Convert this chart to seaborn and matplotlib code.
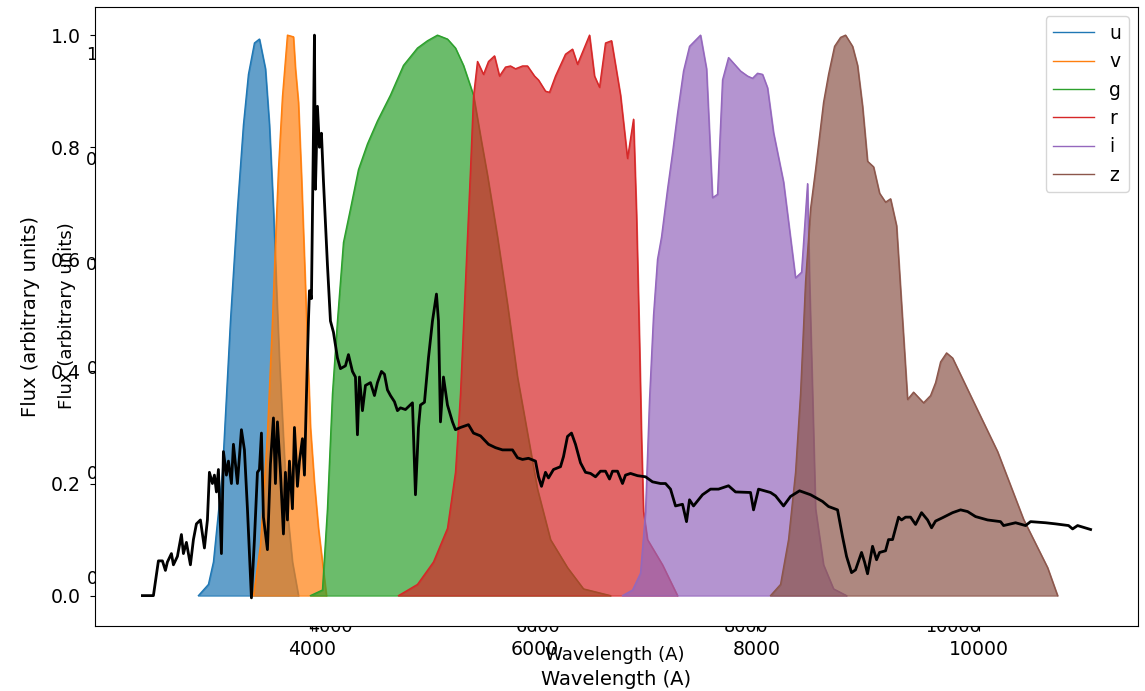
import numpy as np
import pandas as pd
import matplotlib
matplotlib.use("Agg")
import matplotlib.pyplot as plt
import seaborn as sns

# ---------------- data ----------------
filter_names = ["u", "v", "g", "r", "i", "z"]

u_wave = [2974, 3064, 3109, 3190, 3262, 3325, 3379, 3424, 3478, 3523, 3577, 3613,
          3649, 3676, 3703, 3739, 3775, 3820, 3874]
u_resp = [0.0, 0.02, 0.06, 0.22, 0.49, 0.69, 0.84, 0.93, 0.986, 0.993, 0.94, 0.84,
          0.69, 0.55, 0.42, 0.28, 0.15, 0.06, 0.0]

v_wave = [3469, 3532, 3595, 3640, 3667, 3694, 3730, 3775, 3829, 3847, 3874, 3901,
          3928, 3955, 3982, 4018, 4054, 4090, 4126]
v_resp = [0.0, 0.09, 0.29, 0.49, 0.63, 0.76, 0.89, 1.0, 0.997, 0.94, 0.88, 0.75,
          0.60, 0.45, 0.30, 0.20, 0.12, 0.06, 0.0]

g_wave = [3982, 4090, 4135, 4180, 4225, 4279, 4342, 4414, 4495, 4585, 4702, 4819,
          4945, 5035, 5125, 5215, 5287, 5359, 5449, 5521, 5575, 5665, 5755, 5845,
          5935, 6025, 6142, 6295, 6439, 6682]
g_resp = [0.0, 0.01, 0.155, 0.36, 0.49, 0.63, 0.69, 0.76, 0.806, 0.847, 0.893, 0.946,
          0.977, 0.99, 1.0, 0.993, 0.977, 0.946, 0.893, 0.81, 0.75, 0.64, 0.52, 0.39,
          0.29, 0.19, 0.10, 0.05, 0.012, 0.0]

r_wave = [4774, 4945, 5089, 5215, 5287, 5332, 5377, 5422, 5449, 5485, 5539, 5584,
          5638, 5683, 5737, 5782, 5827, 5890, 5935, 5998, 6034, 6097, 6133, 6187,
          6277, 6340, 6385, 6493, 6538, 6583, 6637, 6691, 6772, 6835, 6889, 6916,
          6943, 6961, 6979, 7015, 7150, 7285]
r_resp = [0.0, 0.02, 0.06, 0.12, 0.22, 0.36, 0.56, 0.76, 0.89, 0.953, 0.93, 0.953,
          0.963, 0.927, 0.943, 0.945, 0.94, 0.945, 0.945, 0.927, 0.92, 0.90, 0.898, 0.927,
          0.966, 0.975, 0.948, 1.0, 0.927, 0.907, 0.986, 0.99, 0.893, 0.78, 0.85, 0.68,
          0.45, 0.28, 0.15, 0.10, 0.055, 0.0]

i_wave = [6790, 6880, 6952, 6997, 7033, 7069, 7105, 7141, 7195, 7240, 7285, 7339,
          7393, 7492, 7546, 7600, 7645, 7690, 7744, 7789, 7852, 7915, 7960, 8005,
          8050, 8095, 8149, 8239, 8347, 8401, 8455, 8473, 8500, 8527, 8599, 8689, 8806]
i_resp = [0.0, 0.01, 0.04, 0.15, 0.35, 0.50, 0.60, 0.64, 0.725, 0.79, 0.86, 0.936,
          0.98, 1.0, 0.94, 0.71, 0.716, 0.92, 0.96, 0.95, 0.936, 0.927, 0.923, 0.932,
          0.93, 0.906, 0.826, 0.738, 0.567, 0.577, 0.735, 0.56, 0.36, 0.155, 0.055, 0.012, 0.0]

z_wave = [8122, 8212, 8284, 8347, 8392, 8437, 8482, 8527, 8599, 8644, 8698, 8752,
          8797, 8860, 8905, 8950, 8995, 9049, 9103, 9157, 9202, 9256, 9355, 9409,
          9499, 9562, 9607, 9652, 9706, 9760, 9922, 10165, 10399, 10615, 10705]
z_resp = [0.0, 0.02, 0.10, 0.22, 0.36, 0.56, 0.69, 0.76, 0.88, 0.93, 0.98, 0.996,
          1.0, 0.98, 0.946, 0.873, 0.775, 0.765, 0.718, 0.702, 0.708, 0.66, 0.35, 0.363,
          0.344, 0.357, 0.38, 0.417, 0.433, 0.424, 0.357, 0.257, 0.136, 0.05, 0.0]

spec_wave = [2470, 2569, 2614, 2650, 2677, 2695, 2731, 2749, 2785, 2821, 2839, 2866,
             2902, 2929, 2956, 2992, 3028, 3055, 3073, 3100, 3118, 3136, 3154, 3181,
             3199, 3226, 3244, 3271, 3289, 3325, 3361, 3388, 3415, 3451, 3478, 3505,
             3523, 3541, 3559, 3595, 3622, 3649, 3667, 3685, 3712, 3739, 3757, 3775,
             3793, 3820, 3838, 3865, 3883, 3910, 3928, 3946, 3964, 3973, 3991, 4009,
             4018, 4027, 4045, 4063, 4081, 4099, 4135, 4162, 4189, 4225, 4252, 4297,
             4324, 4360, 4387, 4405, 4423, 4450, 4477, 4522, 4558, 4585, 4621, 4648,
             4675, 4702, 4738, 4765, 4792, 4837, 4900, 4927, 4954, 4972, 5008, 5044,
             5080, 5116, 5134, 5152, 5179, 5215, 5260, 5287, 5332, 5404, 5449, 5512,
             5584, 5647, 5710, 5800, 5845, 5890, 5944, 6007, 6034, 6061, 6097, 6124,
             6169, 6232, 6259, 6295, 6331, 6367, 6412, 6457, 6502, 6547, 6592, 6637,
             6673, 6700, 6745, 6790, 6817, 6862, 6925, 6997, 7060, 7132, 7177, 7222,
             7267, 7330, 7366, 7393, 7429, 7510, 7582, 7654, 7744, 7807, 7942, 7969,
             8014, 8122, 8167, 8239, 8302, 8383, 8482, 8590, 8644, 8725, 8770, 8806,
             8851, 8887, 8941, 8968, 8995, 9040, 9076, 9103, 9157, 9184, 9220, 9274,
             9301, 9337, 9382, 9427, 9481, 9535, 9571, 9607, 9670, 9760, 9832, 9895,
             9967, 10075, 10192, 10219, 10327, 10417, 10462, 10597, 10687, 10804,
             10840, 10885, 11002]
spec_flux = [0.0, 0.0, 0.062, 0.062, 0.045, 0.06, 0.075, 0.055, 0.07, 0.109, 0.075, 0.095,
             0.055, 0.10, 0.128, 0.135, 0.085, 0.135, 0.22, 0.20, 0.215, 0.185, 0.225, 0.075,
             0.257, 0.215, 0.24, 0.20, 0.27, 0.20, 0.296, 0.26, 0.155, -0.004, 0.10, 0.22,
             0.225, 0.29, 0.14, 0.082, 0.235, 0.317, 0.20, 0.31, 0.22, 0.11, 0.22, 0.135,
             0.24, 0.155, 0.30, 0.195, 0.24, 0.28, 0.215, 0.357, 0.49, 0.544, 0.53, 0.825,
             1.0, 0.725, 0.873, 0.80, 0.825, 0.74, 0.59, 0.49, 0.47, 0.424, 0.405, 0.41,
             0.43, 0.40, 0.39, 0.287, 0.39, 0.33, 0.375, 0.38, 0.357, 0.38, 0.40, 0.395,
             0.367, 0.357, 0.346, 0.33, 0.335, 0.332, 0.344, 0.18, 0.30, 0.34, 0.345, 0.424,
             0.49, 0.538, 0.49, 0.31, 0.39, 0.34, 0.31, 0.296, 0.30, 0.305, 0.29, 0.285,
             0.27, 0.264, 0.26, 0.26, 0.246, 0.243, 0.245, 0.24, 0.212, 0.195, 0.22, 0.21,
             0.225, 0.23, 0.248, 0.284, 0.29, 0.27, 0.237, 0.22, 0.218, 0.212, 0.222, 0.222,
             0.208, 0.222, 0.222, 0.20, 0.215, 0.218, 0.214, 0.212, 0.203, 0.20, 0.20, 0.19,
             0.16, 0.163, 0.132, 0.171, 0.16, 0.18, 0.19, 0.19, 0.196, 0.185, 0.184, 0.153,
             0.19, 0.184, 0.178, 0.16, 0.177, 0.187, 0.18, 0.168, 0.159, 0.153, 0.105, 0.07,
             0.041, 0.046, 0.077, 0.06, 0.039, 0.088, 0.064, 0.077, 0.08, 0.10, 0.10, 0.14,
             0.135, 0.14, 0.14, 0.127, 0.148, 0.135, 0.121, 0.133, 0.139, 0.148, 0.153, 0.15,
             0.141, 0.135, 0.132, 0.125, 0.13, 0.125, 0.132, 0.13, 0.128, 0.125,
             0.119, 0.125, 0.118]

x_label = "Wavelength (A)"
y_label = "Flux (arbitrary units)"

# ---------------- figure ----------------
waves = [u_wave, v_wave, g_wave, r_wave, i_wave, z_wave]
resps = [u_resp, v_resp, g_resp, r_resp, i_resp, z_resp]
frames = []
for name, w, r in zip(filter_names, waves, resps):
    frames.append(pd.DataFrame({"wave": w, "resp": r, "filter": name}))
filters = pd.concat(frames, ignore_index=True)
spectrum = pd.DataFrame({"wave": spec_wave, "flux": spec_flux})

palette = sns.color_palette("tab10", len(filter_names))

fig = plt.figure(figsize=(11.45, 6.91), dpi=100)

# faint, slightly smaller copy of the axes behind the main one
s = 0.934
ax_bg = fig.add_axes([0.11118, 0.12446, 0.85083, 0.83661], zorder=0)
ax = fig.add_axes([0.08297, 0.09407, 0.91092, 0.89580], zorder=1)
ax.set_facecolor("white")

for k, name in enumerate(filter_names):
    sub = filters[filters["filter"] == name]
    sns.lineplot(data=sub, x="wave", y="resp", color=palette[k], label=name,
                 lw=1.0, estimator=None, sort=False, ax=ax, zorder=1 + 0.2 * k)
    ax.fill_between(sub["wave"], sub["resp"], color=palette[k], alpha=0.7,
                    lw=1.0, zorder=1.1 + 0.2 * k)

sns.lineplot(data=spectrum, x="wave", y="flux", color="black", lw=2.0,
             estimator=None, sort=False, ax=ax, zorder=3, legend=False)

fs_tick = 13.6
fs_lab = 14.0
tick_pad = 6.5
lab_pad = 8.0
ax.set_xlabel(x_label, fontsize=fs_lab, labelpad=lab_pad)
ax.set_ylabel(y_label, fontsize=fs_lab, labelpad=lab_pad)
ax.tick_params(labelsize=fs_tick, pad=tick_pad)
ax.set_xticks([4000, 6000, 8000, 10000])
ax.set_yticks([0.0, 0.2, 0.4, 0.6, 0.8, 1.0])
for sp in ax.spines.values():
    sp.set_color("black")

leg = ax.legend(loc="upper right", fontsize=13.5, handlelength=2.2)

ax_bg.set_xlim(ax.get_xlim())
ax_bg.set_ylim(ax.get_ylim())
ax_bg.set_xticks([4000, 6000, 8000, 10000])
ax_bg.set_yticks([0.0, 0.2, 0.4, 0.6, 0.8, 1.0])
ax_bg.tick_params(labelsize=fs_tick * s, length=3.5 * s, pad=tick_pad * s)
ax_bg.set_xlabel(x_label, fontsize=fs_lab * s, labelpad=lab_pad * s)
ax_bg.set_ylabel(y_label, fontsize=fs_lab * s, labelpad=lab_pad * s)

fig.savefig("out.png", dpi=100)
